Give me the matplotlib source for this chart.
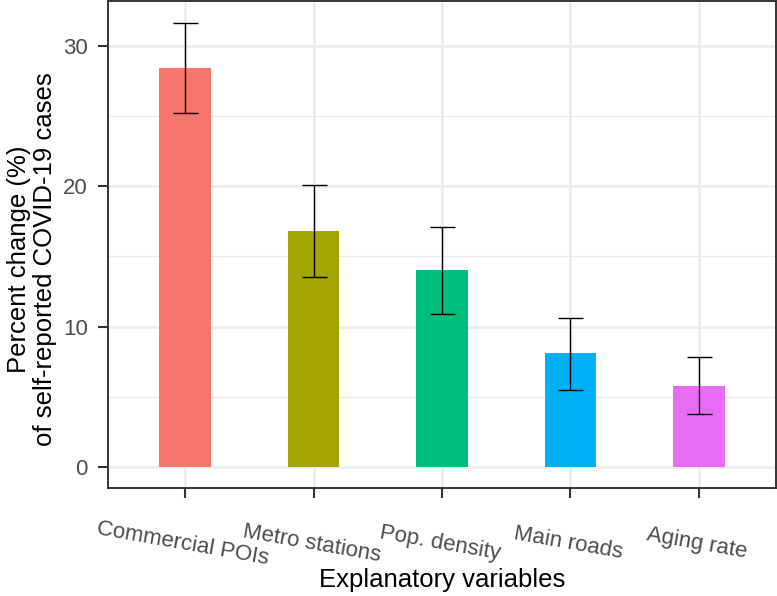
import matplotlib
matplotlib.use("Agg")
import matplotlib.pyplot as plt
import numpy as np

# data
variables = ["Commercial POIs", "Metro stations", "Pop. density", "Main roads", "Aging rate"]
pct_change = [28.4, 16.8, 14.0, 8.1, 5.8]
ci_low = [25.2, 13.5, 10.9, 5.5, 3.8]
ci_high = [31.6, 20.1, 17.1, 10.6, 7.8]
bar_colors = ["#F8766D", "#A3A500", "#00BF7D", "#00B0F6", "#E76BF3"]

plt.rcParams['font.family'] = ['Liberation Sans', 'DejaVu Sans']

fig = plt.figure(figsize=(7.77, 5.96), dpi=100)
ax = fig.add_axes([108 / 777, 108 / 596, 668 / 777, 487 / 596])

x = np.arange(1, len(variables) + 1)
ax.bar(x, pct_change, width=0.4, color=bar_colors, zorder=2)
err = [np.array(pct_change) - np.array(ci_low), np.array(ci_high) - np.array(pct_change)]
ax.errorbar(x, pct_change, yerr=err, fmt='none', ecolor='black', elinewidth=1.0,
            capsize=9, capthick=1.0, zorder=3)

ax.set_xlim(0.4, 5.6)
ax.set_ylim(-1.5, 33.2)
ax.set_yticks([0, 10, 20, 30])
ax.set_yticks([5, 15, 25], minor=True)
ax.set_xticks(x)
ax.set_xticklabels(variables, rotation=-10, ha='center', va='top', rotation_mode='anchor')

ax.grid(True, which='major', color='#EBEBEB', linewidth=1.8, zorder=0)
ax.grid(True, which='minor', axis='y', color='#EBEBEB', linewidth=0.9, zorder=0)
ax.set_axisbelow(True)

for sp in ax.spines.values():
    sp.set_color('#333333')
    sp.set_linewidth(1.4)

ax.tick_params(axis='both', which='major', length=7.5, width=1.5, color='#333333',
               labelsize=16, labelcolor='#4D4D4D')
ax.tick_params(axis='y', pad=7)
ax.tick_params(axis='x', pad=25)
ax.tick_params(which='minor', length=0)

ax.set_xlabel("Explanatory variables", fontsize=18.5, color='black')
ax.xaxis.set_label_coords(0.5, -(568 - 488) / 487)
ax.set_ylabel("Percent change (%)\nof self-reported COVID-19 cases", fontsize=18.5,
              color='black', linespacing=1.1)
ax.yaxis.set_label_coords((57 - 108) / 668, 0.47)

fig.savefig("out.png", dpi=100)
